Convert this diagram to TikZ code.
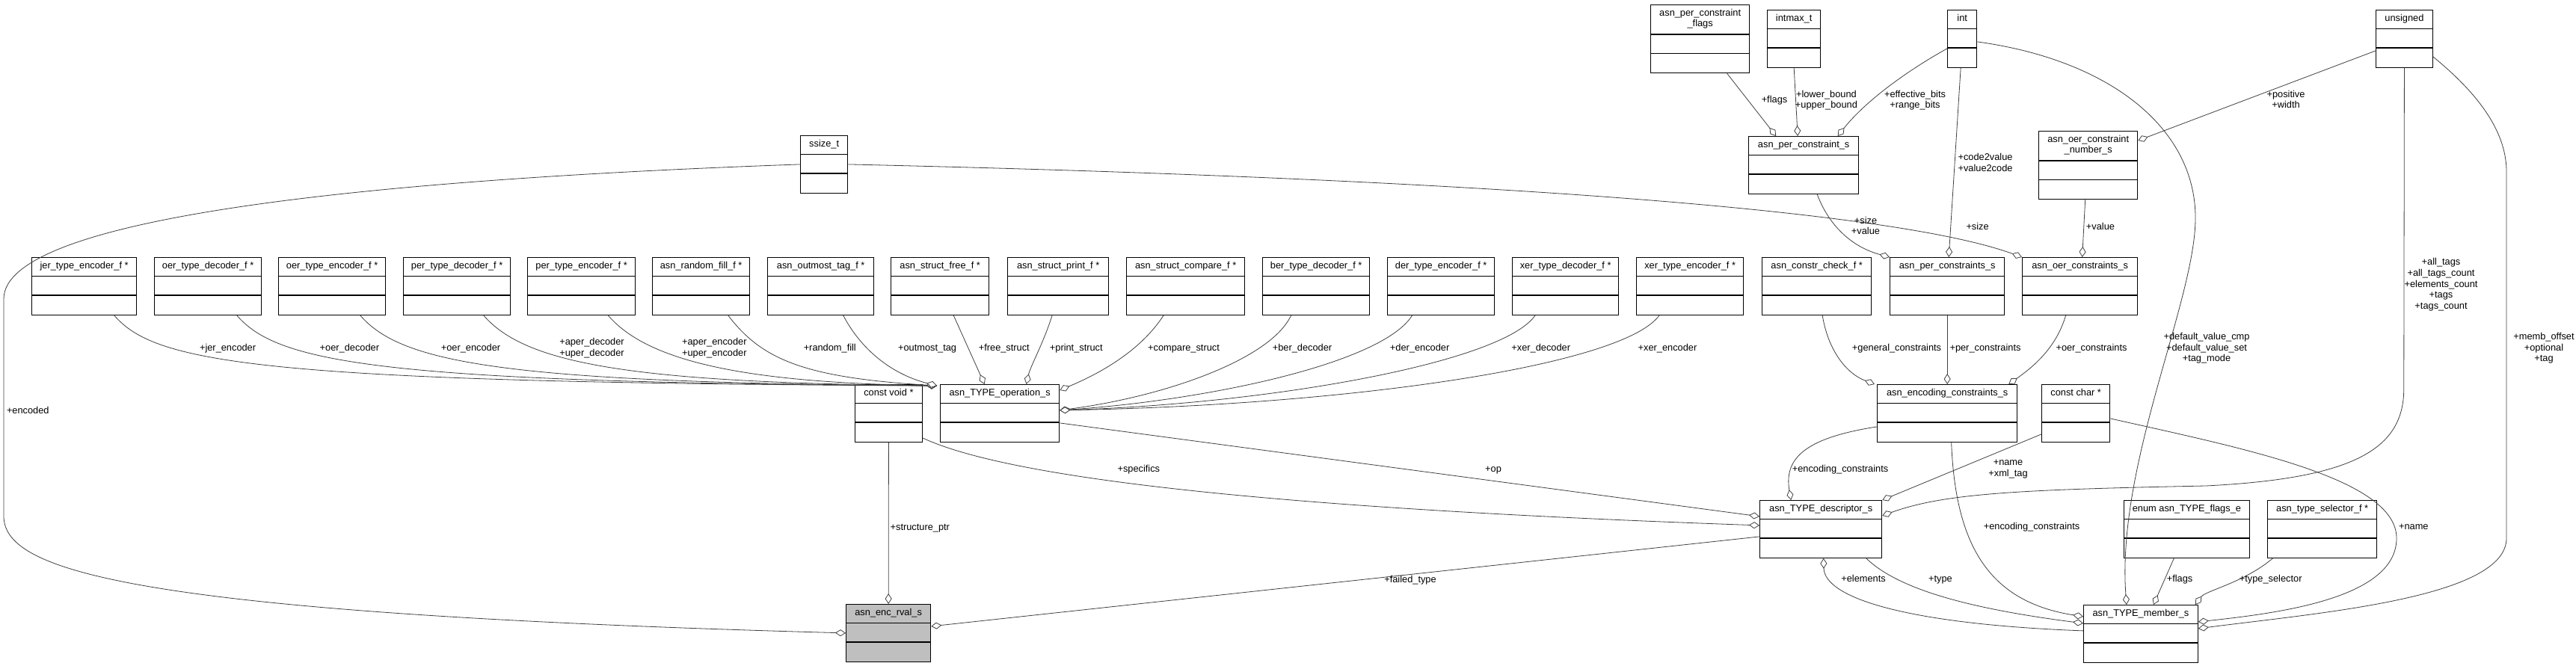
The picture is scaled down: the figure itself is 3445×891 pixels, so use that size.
\documentclass[tikz,border=0pt]{standalone}
\usepackage{fontspec}
\setmainfont{Liberation Sans}
\usetikzlibrary{arrows.meta}
\tikzset{>=stealth}

\begin{document}
\begin{tikzpicture}[x=1pt, y=-1pt, font=\fontsize{12.8pt}{14.7pt}\selectfont,
    cls/.style={draw=black, line width=1.3pt, anchor=north west, inner sep=0pt},
    ttl/.style={inner sep=0pt, align=center, execute at begin node=\strut, execute at end node=\strut},
    agg/.style={draw=black!75, line width=0.8pt, -{Diamond[fill=white, length=14pt, width=9pt]}}]
    \useasboundingbox (0,0) rectangle (3445,891);
    \foreach \n/\x/\y/\w/\h/\fc/\t in {
        jer/42/344/140/25.5/white/{jer\_type\_encoder\_f *},
        oerdec/206/344/143/25.5/white/{oer\_type\_decoder\_f *},
        oerenc/372/344/143/25.5/white/{oer\_type\_encoder\_f *},
        perdec/539/344/143/25.5/white/{per\_type\_decoder\_f *},
        perenc/705/344/144/25.5/white/{per\_type\_encoder\_f *},
        rfill/872/344/130/25.5/white/{asn\_random\_fill\_f *},
        outmost/1026/344/142/25.5/white/{asn\_outmost\_tag\_f *},
        sfree/1191/344/131/25.5/white/{asn\_struct\_free\_f *},
        sprint/1347/344/135/25.5/white/{asn\_struct\_print\_f *},
        scomp/1506/344/158/25.5/white/{asn\_struct\_compare\_f *},
        berdec/1688/344/143/25.5/white/{ber\_type\_decoder\_f *},
        derenc/1855/344/143/25.5/white/{der\_type\_encoder\_f *},
        xerdec/2022/344/142/25.5/white/{xer\_type\_decoder\_f *},
        xerenc/2188/344/143/25.5/white/{xer\_type\_encoder\_f *},
        ccheck/2356/344/146/25.5/white/{asn\_constr\_check\_f *},
        perc/2527/344/153/25.5/white/{asn\_per\_constraints\_s},
        oerc/2704/344/154/25.5/white/{asn\_oer\_constraints\_s},
        flags/2207/6/132/40/white/{asn\_per\_constraint\\\_flags},
        intmax/2363/13/71/25.5/white/{intmax\_t},
        int/2604/13/39/25.5/white/{int},
        uns/3177/13/75.5/25.5/white/{unsigned},
        perone/2338/182/147/25.5/white/{asn\_per\_constraint\_s},
        oernum/2726/175/132/40/white/{asn\_oer\_constraint\\\_number\_s},
        ssize/1070/181/63/25.5/white/{ssize\_t},
        cvoid/1143/514/89.5/25.5/white/{const void *},
        op/1257/514/159/25.5/white/{asn\_TYPE\_operation\_s},
        encc/2510/514/187/25.5/white/{asn\_encoding\_constraints\_s},
        cchar/2730/514/91/25.5/white/{const char *},
        desc/2353/669/163/25.5/white/{asn\_TYPE\_descriptor\_s},
        tflags/2840/669/167.5/25.5/white/{enum asn\_TYPE\_flags\_e},
        tsel/3032/669/146/25.5/white/{asn\_type\_selector\_f *},
        member/2786/809/152.5/25.5/white/{asn\_TYPE\_member\_s},
        rval/1131/808/113/25.5/black!25/{asn\_enc\_rval\_s}}
    {
        \node[cls, fill=\fc, minimum width=\w pt, minimum height=\h pt+51pt] (\n) at (\x,\y) {};
        \node[ttl] (\n-t) at ([yshift=-\h pt/2]\n.north) {\t};
        \draw[line width=1.3pt] ([yshift=-\h pt]\n.north west) -- ([yshift=-\h pt]\n.north east)
            ([yshift=-\h pt-25.5pt]\n.north west) -- ([yshift=-\h pt-25.5pt]\n.north east);
    }
    \draw[agg] ([xshift=40pt]jer.south) .. controls (207,485) and (342,512) .. ([xshift=-4pt,yshift=-2pt]op.north west);
    \draw[agg] ([xshift=38.5pt]oerdec.south) .. controls (371,485) and (506,512) .. ([xshift=-4pt,yshift=-2pt]op.north west);
    \draw[agg] ([xshift=37.5pt]oerenc.south) .. controls (536,485) and (671,512) .. ([xshift=-4pt,yshift=-2pt]op.north west);
    \draw[agg] ([xshift=35.5pt]perdec.south) .. controls (701,485) and (836,512) .. ([xshift=-4pt,yshift=-2pt]op.north west);
    \draw[agg] ([xshift=35.5pt]perenc.south) .. controls (867,485) and (1002,512) .. ([xshift=-4pt,yshift=-2pt]op.north west);
    \draw[agg] ([xshift=36pt]rfill.south) .. controls (1018,480) and (1073,505) .. ([xshift=-4pt,yshift=-2pt]op.north west);
    \draw[agg] ([xshift=30pt]outmost.south) .. controls (1150,465) and (1190,500) .. ([xshift=-4pt,yshift=-2pt]op.north west);
    \draw[agg] ([xshift=18pt]sfree.south) -- ([xshift=-20.5pt]op.north);
    \draw[agg] ([xshift=-8pt]sprint.south) .. controls (1395,460) and (1378,490) .. ([xshift=35.5pt]op.north);
    \draw[agg] ([xshift=-29.5pt]scomp.south) .. controls (1525,470) and (1470,500) .. ([yshift=-8pt]op.north east);
    \draw[agg] ([xshift=-33.5pt]berdec.south) .. controls (1700,480) and (1560,530) .. ([yshift=4pt]op.east);
    \draw[agg] ([xshift=-38.5pt]derenc.south) .. controls (1850,485) and (1620,535) .. ([yshift=4pt]op.east);
    \draw[agg] ([xshift=-40.5pt]xerdec.south) .. controls (2010,485) and (1700,540) .. ([yshift=4pt]op.east);
    \draw[agg] ([xshift=-41pt]xerenc.south) .. controls (2170,490) and (1800,542) .. ([yshift=4pt]op.east);
    \draw[agg] ([yshift=-13pt]op.east) -- ([yshift=17pt]desc.west);
    \draw[agg] ([yshift=-33pt]cvoid.east) .. controls (1350,640) and (1700,680) .. ([yshift=5pt]desc.west);
    \draw[agg] (cvoid.south) -- (rval.north);
    \draw[agg] ([yshift=-10pt]desc.west) -- ([yshift=9pt]rval.east);
    \draw[agg] (ssize.west) .. controls (500,240) and (5,290) .. (5,400) -- (5,690) .. controls (5,760) and (150,820) .. (rval.west);
    \draw[agg] (ssize.east) .. controls (1800,235) and (2500,270) .. (oerc.north west);
    \draw[agg] ([xshift=18pt]perone.south) .. controls (2445,300) and (2475,330) .. (perc.north west);
    \draw[agg] ([xshift=-2pt]int.south) -- ([xshift=2pt]perc.north);
    \draw[agg] ([yshift=-13pt]int.west) .. controls (2550,95) and (2495,135) .. ([xshift=45.5pt]perone.north);
    \draw[agg] (intmax.south) -- ([xshift=-8pt]perone.north);
    \draw[agg] ([xshift=36pt]flags.south) -- ([xshift=-37pt]perone.north);
    \draw[agg] ([yshift=-16pt]uns.west) -- ([yshift=-13pt]oernum.north east);
    \draw[agg] ([xshift=-4pt]oernum.south) -- ([xshift=3pt]oerc.north);
    \draw[agg] ([yshift=-4pt]int.east) .. controls (2820,80) and (2935,170) .. (2936,290) .. controls (2937,400) and (2830,620) .. ([xshift=-19pt]member.north);
    \draw[agg] (uns.south) -- (3214.75,520) .. controls (3214.75,600) and (3150,640) .. (2950,650) .. controls (2700,655) and (2600,660) .. ([yshift=18pt]desc.east);
    \draw[agg] ([yshift=-24pt]uns.east) .. controls (3320,130) and (3352,180) .. (3352,230) -- (3352,720) .. controls (3352,800) and (3100,820) .. ([yshift=7pt]member.east);
    \draw[agg] ([xshift=7.5pt]ccheck.south) .. controls (2445,470) and (2470,500) .. ([xshift=-3pt]encc.north west);
    \draw[agg] (perc.south) -- (encc.north);
    \draw[agg] ([xshift=-19pt]oerc.south) .. controls (2750,465) and (2720,490) .. ([xshift=-12pt]encc.north east);
    \draw[agg] ([yshift=-18pt]encc.west) .. controls (2420,585) and (2385,610) .. ([xshift=-40pt]desc.north);
    \draw[agg] ([yshift=-28pt]cchar.west) -- (desc.north east);
    \draw[agg] ([xshift=5.5pt]encc.south) .. controls (2615,730) and (2660,805) .. ([yshift=23pt]member.west);
    \draw[agg] ([yshift=-7pt]cchar.east) .. controls (3000,600) and (3205,640) .. (3205,720) .. controls (3205,800) and (3050,820) .. ([yshift=16pt]member.east);
    \draw[agg] ([yshift=4pt]member.west) .. controls (2550,835) and (2440,800) .. ([xshift=3.5pt]desc.south);
    \draw[agg] ([xshift=60.5pt]desc.south) .. controls (2540,790) and (2640,815) .. ([yshift=14pt]member.west);
    \draw[agg] ([xshift=-17pt]tflags.south) -- ([xshift=17pt]member.north);
    \draw[agg] ([xshift=-66pt]tsel.south) .. controls (3000,780) and (2950,790) .. ([xshift=-4pt]member.north east);
    \foreach \n/\x/\y/\t in {
        jer/304.6/466.7/{+jer\_encoder}, oerdec/467.4/466.7/{+oer\_decoder},
        oerenc/629.5/466.7/{+oer\_encoder}, perdec/791.5/466.3/{+aper\_decoder\\+uper\_decoder},
        perenc/955.3/466.3/{+aper\_encoder\\+uper\_encoder}, rfill/1109.8/466.7/{+random\_fill},
        outmost/1240.1/466.7/{+outmost\_tag}, sfree/1342.8/466.7/{+free\_struct},
        sprint/1439.3/466.7/{+print\_struct}, scomp/1583/466.7/{+compare\_struct},
        berdec/1741.5/466.7/{+ber\_decoder}, derenc/1898.6/466.7/{+der\_encoder},
        xerdec/2060.7/466.7/{+xer\_decoder}, xerenc/2230/466.7/{+xer\_encoder},
        ccheck/2536.5/466.7/{+general\_constraints}, perc/2655/466.7/{+per\_constraints},
        oerc/2797/466.7/{+oer\_constraints},
        intm/2951/466.7/{+default\_value\_cmp\\+default\_value\_set\\+tag\_mode},
        unsm/3402/466.7/{+memb\_offset\\+optional\\+tag},
        unsd/3264.5/381.7/{+all\_tags\\+all\_tags\_count\\+elements\_count\\+tags\\+tags\_count},
        ssize/2644.6/304.3/{+size}, perone/2495/304.2/{+size\\+value}, oernum/2809/304.3/{+value},
        intp/2655/219.7/{+code2value\\+value2code}, flags/2373/135/{+flags},
        intmax/2442.4/135.2/{+lower\_bound\\+upper\_bound}, intc/2561/135.2/{+effective\_bits\\+range\_bits},
        uns/3057/135.2/{+positive\\+width}, enc/37.3/551/{+encoded},
        cvoid/1230.3/706.7/{+structure\_ptr}, spec/1522.8/629/{+specifics}, op/1997/629/{+op},
        fail/1886/776.7/{+failed\_type}, enccd/2461/628.7/{+encoding\_constraints},
        cchard/2685.5/628.3/{+name\\+xml\_tag}, enccm/2717/706/{+encoding\_constraints},
        ccharm/3227.8/706/{+name}, elem/2492/776/{+elements}, type/2595/776/{+type},
        tflags/2915/776/{+flags}, tsel/3036.7/776/{+type\_selector}}
    \node[ttl] (l-\n) at (\x,\y) {\t};
\end{tikzpicture}
\end{document}
